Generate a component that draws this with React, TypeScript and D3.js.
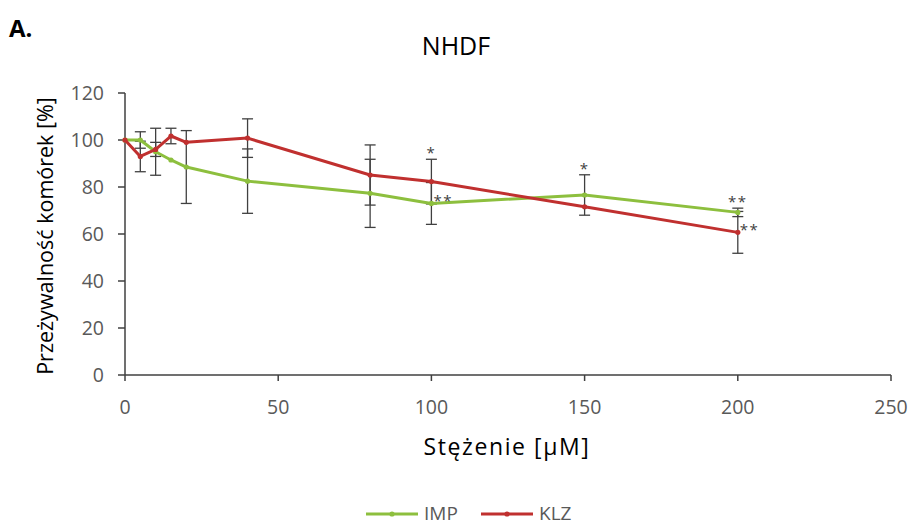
import React from "react";
import * as d3 from "d3";

const concentrations = [0, 5, 10, 15, 20, 40, 80, 100, 150, 200];
const impValues = [100, 100, 95, 91.5, 88.5, 82.5, 77.3, 73, 76.6, 69.2];
const impErrors = [0, 3.5, 10, 0, 15.5, 13.7, 14.5, 8.9, 8.6, 1.8];
const klzValues = [100, 93, 96, 101.7, 99, 100.8, 85.1, 82.3, 71.6, 60.7];
const klzErrors = [0, 6.5, 3, 3.3, 0, 8.2, 12.8, 9.5, 0, 8.9];
const yTicks = [0, 20, 40, 60, 80, 100, 120];
const xTicks = [0, 50, 100, 150, 200, 250];
const seriesNames = ["IMP", "KLZ"];
// significance marks: [series index, point index, label, placement]
const marks: [number, number, string, string][] = [
  [1, 7, "*", "top"],
  [0, 7, "**", "right"],
  [0, 8, "*", "top"],
  [0, 9, "**", "top"],
  [1, 9, "**", "right"],
];

const W = 911, H = 527;
const colors = ["#8DBF3E", "#C0302F"];
const axisColor = "#404040";
const labelColor = "#595959";
const font = "'Open Sans', 'Liberation Sans', sans-serif";

export default function App() {
  const x = d3.scaleLinear().domain([0, 250]).range([125, 891]);
  const y = d3.scaleLinear().domain([0, 120]).range([375, 93]);
  const series = [
    { vals: impValues, errs: impErrors },
    { vals: klzValues, errs: klzErrors },
  ];
  const line = d3
    .line<number>()
    .x((_, i) => x(concentrations[i]))
    .y((d) => y(d));
  const cap = 5.5;

  return (
    <svg width={W} height={H} style={{ position: "absolute", left: 0, top: 0, background: "#fff" }} fontFamily={font}>
      <text x={9} y={37} fontSize={24} fontWeight="bold" fill="#000">A.</text>
      <text x={456} y={55} fontSize={25} textAnchor="middle" fill="#000">NHDF</text>

      {/* y axis */}
      <line x1={125} x2={125} y1={y(120)} y2={y(0)} stroke={axisColor} strokeWidth={1.5} />
      {yTicks.map((t) => (
        <g key={"y" + t}>
          <line x1={118} x2={125} y1={y(t)} y2={y(t)} stroke={axisColor} strokeWidth={1.5} />
          <text x={104} y={y(t)} dy="0.36em" textAnchor="end" fontSize={19.5} fill={labelColor}>{t}</text>
        </g>
      ))}
      {/* x axis */}
      <line x1={x(0)} x2={x(250)} y1={y(0)} y2={y(0)} stroke={axisColor} strokeWidth={1.5} />
      {xTicks.map((t) => (
        <g key={"x" + t}>
          <line x1={x(t)} x2={x(t)} y1={y(0)} y2={y(0) + 6} stroke={axisColor} strokeWidth={1.5} />
          <text x={x(t)} y={y(0) + 39} textAnchor="middle" fontSize={19.5} fill={labelColor}>{t}</text>
        </g>
      ))}

      <text x={507} y={455} textAnchor="middle" fontSize={23} letterSpacing={1.6} fill="#000">Stężenie [µM]</text>
      <text transform={`translate(53,236) rotate(-90)`} textAnchor="middle" fontSize={21.5} fill="#000">Przeżywalność komórek [%]</text>

      {/* error bars */}
      {series.map((s, si) =>
        s.vals.map((v, i) => {
          const e = s.errs[i];
          if (!e) return null;
          const cx = x(concentrations[i]);
          return (
            <g key={`e${si}-${i}`} stroke={axisColor} strokeWidth={1.3}>
              <line x1={cx} x2={cx} y1={y(v + e)} y2={y(v - e)} />
              <line x1={cx - cap} x2={cx + cap} y1={y(v + e)} y2={y(v + e)} />
              <line x1={cx - cap} x2={cx + cap} y1={y(v - e)} y2={y(v - e)} />
            </g>
          );
        })
      )}

      {/* lines */}
      {series.map((s, si) => (
        <g key={"l" + si}>
          <path d={line(s.vals) || ""} fill="none" stroke={colors[si]} strokeWidth={3} strokeLinejoin="round" />
          {s.vals.map((v, i) => (
            <circle key={i} cx={x(concentrations[i])} cy={y(v)} r={2.6} fill={colors[si]} />
          ))}
        </g>
      ))}

      {/* significance */}
      {marks.map(([si, i, lab, pos], k) => {
        const s = series[si];
        const cx = x(concentrations[i]);
        if (pos === "top") {
          const top = y(s.vals[i] + s.errs[i]);
          return (
            <text key={"m" + k} x={cx} y={top - 1} textAnchor="middle" fontSize={15} letterSpacing={1.5} fill={axisColor}>{lab}</text>
          );
        }
        return (
          <text key={"m" + k} x={cx + 2} y={y(s.vals[i]) + 3} textAnchor="start" fontSize={15} letterSpacing={1.5} fill={axisColor}>{lab}</text>
        );
      })}

      {/* legend */}
      {seriesNames.map((n, si) => {
        const lx = 366 + si * 115;
        return (
          <g key={"lg" + n}>
            <line x1={lx} x2={lx + 52} y1={514} y2={514} stroke={colors[si]} strokeWidth={3} />
            <circle cx={lx + 26} cy={514} r={2.6} fill={colors[si]} />
            <text x={lx + 58} y={520} fontSize={19} fill={labelColor}>{n}</text>
          </g>
        );
      })}
    </svg>
  );
}
